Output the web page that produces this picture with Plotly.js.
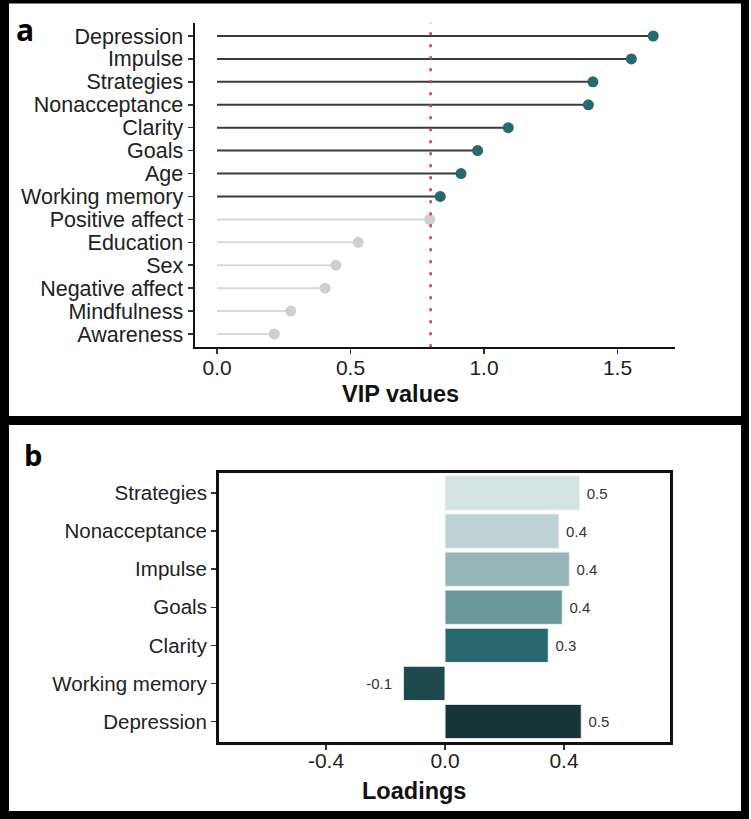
<!DOCTYPE html>
<html>
<head>
<meta charset="utf-8">
<script src="https://cdn.plot.ly/plotly-3.0.1.min.js"></script>
<style>
  html, body { margin: 0; padding: 0; background: #ffffff; }
  #chart { width: 751px; height: 819px; }
</style>
</head>
<body>
<div id="chart"></div>
<script>
// ---------- DATA ----------
// Panel a: VIP values (top to bottom)
const vipLabels = ["Depression", "Impulse", "Strategies", "Nonacceptance", "Clarity", "Goals", "Age",
                   "Working memory", "Positive affect", "Education", "Sex", "Negative affect",
                   "Mindfulness", "Awareness"];
const vipValues = [1.634, 1.552, 1.408, 1.391, 1.091, 0.976, 0.914, 0.836, 0.797, 0.529, 0.445,
                   0.405, 0.276, 0.215];
const vipThreshold = 0.8;
const vipTickVals = [0, 0.5, 1.0, 1.5];
const vipTickText = ["0.0", "0.5", "1.0", "1.5"];

// Panel b: Loadings (top to bottom)
const loadLabels = ["Strategies", "Nonacceptance", "Impulse", "Goals", "Clarity", "Working memory", "Depression"];
const loadValues = [0.452, 0.383, 0.418, 0.394, 0.347, -0.140, 0.458];
const loadTickVals = [-0.4, 0.0, 0.4];
const loadTickText = ["-0.4", "0.0", "0.4"];

// ---------- STYLE ----------
const W = 751, H = 819;
const FONT = "Liberation Sans, Arial, Helvetica, sans-serif";
const barColors = ["#d3e2e3", "#bdd2d4", "#95b4b5", "#6a9798", "#26686c", "#1e4a4e", "#173538"];
const sigDot = "#266a6e", sigLine = "#3a3a3a";
const nsDot = "#cfcfcf", nsLine = "#d9d9d9";

const px = v => v / W;
const py = v => 1 - v / H;

// ---------- TRACES ----------
function segs(filterFn) {
  const xs = [], ys = [];
  vipLabels.forEach((c, i) => {
    if (filterFn(vipValues[i])) { xs.push(0, vipValues[i], null); ys.push(c, c, null); }
  });
  return { xs, ys };
}
const sig = v => v > vipThreshold;
const ns = v => !(v > vipThreshold);
const sSig = segs(sig), sNs = segs(ns);

const traces = [
  { type: "scatter", mode: "lines", x: sNs.xs, y: sNs.ys, xaxis: "x", yaxis: "y",
    line: { color: nsLine, width: 2 }, hoverinfo: "skip", showlegend: false },
  { type: "scatter", mode: "lines", x: sSig.xs, y: sSig.ys, xaxis: "x", yaxis: "y",
    line: { color: sigLine, width: 2 }, hoverinfo: "skip", showlegend: false },
  { type: "scatter", mode: "markers", x: vipValues, y: vipLabels, xaxis: "x", yaxis: "y",
    marker: { size: 11, color: vipValues.map(v => sig(v) ? sigDot : nsDot) },
    cliponaxis: false, showlegend: false },
  { type: "bar", orientation: "h", x: loadValues, y: loadLabels, xaxis: "x2", yaxis: "y2",
    width: 0.9,
    marker: { color: barColors, line: { color: "#eef3f3", width: 1 } },
    texttemplate: loadValues.map(v => v >= 0 ? "\u00a0%{x:.1f}" : "%{x:.1f}\u00a0\u00a0"),
    textposition: "outside", cliponaxis: false,
    textfont: { family: FONT, size: 15, color: "#333333" },
    showlegend: false }
];

// ---------- LAYOUT ----------
const tickFont = { family: FONT, size: 21, color: "#222222" };

const layout = {
  width: W, height: H,
  margin: { l: 0, r: 0, t: 0, b: 0 },
  paper_bgcolor: "#ffffff", plot_bgcolor: "#ffffff",
  showlegend: false,
  font: { family: FONT },
  xaxis: {
    domain: [px(194.5), px(675)], anchor: "y",
    range: [-0.0843, 1.7154],
    tickmode: "array", tickvals: vipTickVals, ticktext: vipTickText,
    showgrid: false, zeroline: false,
    showline: true, linecolor: "#111111", linewidth: 2,
    ticks: "outside", ticklen: 5, tickwidth: 1.5, tickcolor: "#333333",
    ticklabelstandoff: -5,
    tickfont: tickFont
  },
  yaxis: {
    domain: [py(347.3), py(22.7)], anchor: "x",
    type: "category", categoryarray: vipLabels, categoryorder: "array",
    tickmode: "array", tickvals: vipLabels, ticktext: vipLabels,
    range: [13.58, -0.58],
    showgrid: false, zeroline: false,
    showline: true, linecolor: "#111111", linewidth: 2,
    ticks: "outside", ticklen: 5, tickwidth: 1.5, tickcolor: "#333333",
    tickfont: { family: FONT, size: 21.5, color: "#222222" }
  },
  xaxis2: {
    domain: [px(219), px(670)], anchor: "y2",
    range: [-0.7597, 0.7563],
    tickmode: "array", tickvals: loadTickVals, ticktext: loadTickText,
    showgrid: false, zeroline: false,
    showline: true, mirror: true, linecolor: "#111111", linewidth: 3,
    ticks: "outside", ticklen: 5, tickwidth: 1.5, tickcolor: "#333333",
    ticklabelstandoff: -7,
    tickfont: tickFont
  },
  yaxis2: {
    domain: [py(741.8), py(473.2)], anchor: "x2",
    type: "category", categoryarray: loadLabels, categoryorder: "array",
    tickmode: "array", tickvals: loadLabels, ticktext: loadLabels,
    range: [6.533, -0.52],
    showgrid: false, zeroline: false,
    showline: true, mirror: true, linecolor: "#111111", linewidth: 3,
    ticks: "outside", ticklen: 5, tickwidth: 1.5, tickcolor: "#333333",
    tickfont: { family: FONT, size: 20.5, color: "#222222" }
  },
  shapes: [
    // threshold line
    { type: "line", xref: "x", yref: "y domain", x0: vipThreshold, x1: vipThreshold, y0: 0, y1: 1,
      line: { color: "#d63a55", width: 2.5, dash: "3px,9px" } },
    // outer frames
    { type: "rect", xref: "paper", yref: "paper", x0: px(0), x1: px(9), y0: py(819), y1: py(0),
      fillcolor: "#000000", line: { width: 0 } },
    { type: "rect", xref: "paper", yref: "paper", x0: px(741), x1: px(749), y0: py(819), y1: py(0),
      fillcolor: "#000000", line: { width: 0 } },
    { type: "rect", xref: "paper", yref: "paper", x0: px(0), x1: px(749), y0: py(3.5), y1: py(0),
      fillcolor: "#000000", line: { width: 0 } },
    { type: "rect", xref: "paper", yref: "paper", x0: px(0), x1: px(749), y0: py(425), y1: py(416),
      fillcolor: "#000000", line: { width: 0 } },
    { type: "rect", xref: "paper", yref: "paper", x0: px(0), x1: px(749), y0: py(819), y1: py(811),
      fillcolor: "#000000", line: { width: 0 } }
  ],
  annotations: [
    { text: "VIP values", xref: "paper", yref: "paper", x: px(400.5), y: py(394),
      xanchor: "center", yanchor: "middle", showarrow: false,
      font: { family: FONT, size: 23.5, color: "#111111", weight: "bold" } },
    { text: "Loadings", xref: "paper", yref: "paper", x: px(414), y: py(791),
      xanchor: "center", yanchor: "middle", showarrow: false,
      font: { family: FONT, size: 23.5, color: "#111111", weight: "bold" } },
    { text: "a", xref: "paper", yref: "paper", x: px(25), y: py(30),
      xanchor: "center", yanchor: "middle", showarrow: false,
      font: { family: "Open Sans, DejaVu Sans, sans-serif", size: 30, color: "#000000", weight: "bold" } },
    { text: "b", xref: "paper", yref: "paper", x: px(33), y: py(454),
      xanchor: "center", yanchor: "middle", showarrow: false,
      font: { family: "Open Sans, DejaVu Sans, sans-serif", size: 29, color: "#000000", weight: "bold" } }
  ]
};

Plotly.newPlot("chart", traces, layout, { displayModeBar: false, staticPlot: true });
</script>
</body>
</html>
